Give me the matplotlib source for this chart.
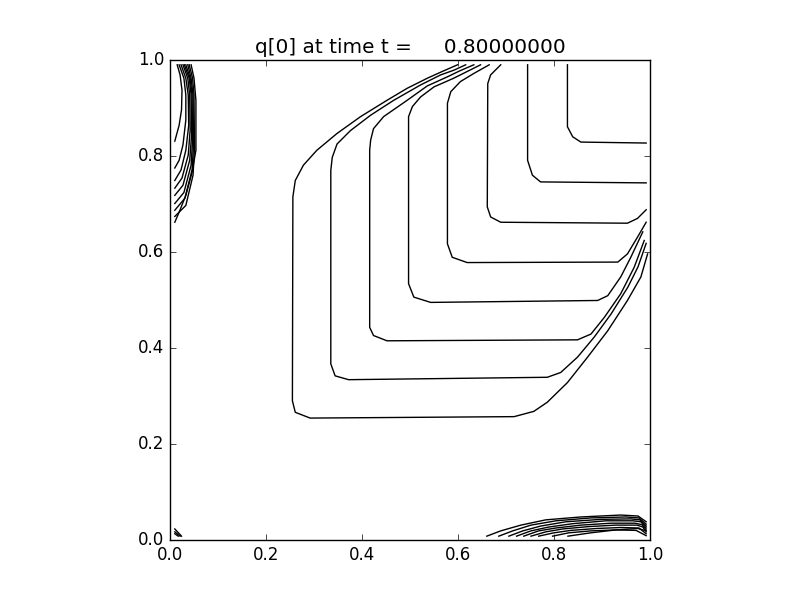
import matplotlib
matplotlib.use("Agg")
import matplotlib.pyplot as plt

# contour lines, (x, y) in data units
# main L-shaped contours, outermost first
main_lines = [
    [(0.599, 0.990), (0.567, 0.976), (0.536, 0.962), (0.494, 0.941), (0.452, 0.916),
     (0.397, 0.882), (0.348, 0.847), (0.306, 0.812), (0.278, 0.781), (0.261, 0.749),
     (0.256, 0.715), (0.255, 0.290), (0.261, 0.266), (0.292, 0.254), (0.717, 0.257),
     (0.758, 0.268), (0.786, 0.287), (0.828, 0.328), (0.870, 0.381), (0.912, 0.436),
     (0.953, 0.499), (0.981, 0.548), (0.995, 0.596)],
    [(0.616, 0.990), (0.592, 0.979), (0.564, 0.969), (0.522, 0.948), (0.466, 0.916),
     (0.418, 0.885), (0.376, 0.853), (0.348, 0.825), (0.338, 0.797), (0.335, 0.770),
     (0.335, 0.367), (0.344, 0.342), (0.372, 0.334), (0.786, 0.339), (0.814, 0.349),
     (0.849, 0.381), (0.884, 0.423), (0.919, 0.471), (0.954, 0.527), (0.975, 0.569),
     (0.992, 0.618)],
    [(0.633, 0.990), (0.605, 0.978), (0.578, 0.965), (0.536, 0.946), (0.494, 0.916),
     (0.445, 0.882), (0.424, 0.857), (0.418, 0.833), (0.416, 0.812), (0.416, 0.443),
     (0.424, 0.426), (0.452, 0.415), (0.849, 0.417), (0.877, 0.429), (0.905, 0.464),
     (0.939, 0.513), (0.967, 0.568), (0.988, 0.624)],
    [(0.647, 0.990), (0.619, 0.976), (0.591, 0.962), (0.550, 0.944), (0.522, 0.923),
     (0.505, 0.903), (0.497, 0.882), (0.497, 0.534), (0.508, 0.506), (0.543, 0.495),
     (0.891, 0.499), (0.912, 0.509), (0.939, 0.548), (0.960, 0.589), (0.985, 0.642)],
    [(0.665, 0.990), (0.633, 0.972), (0.605, 0.955), (0.585, 0.934), (0.578, 0.910),
     (0.578, 0.617), (0.588, 0.589), (0.619, 0.578), (0.933, 0.579), (0.953, 0.596),
     (0.974, 0.631), (0.992, 0.662)],
    [(0.689, 0.990), (0.668, 0.969), (0.662, 0.951), (0.661, 0.694), (0.668, 0.673),
     (0.689, 0.662), (0.953, 0.660), (0.974, 0.670), (0.992, 0.688)],
    [(0.745, 0.990), (0.745, 0.791), (0.755, 0.760), (0.772, 0.746), (0.992, 0.744)],
    [(0.828, 0.990), (0.828, 0.861), (0.839, 0.840), (0.856, 0.829), (0.992, 0.827)],
]

# bundle in the upper left corner, innermost first
top_left_lines = [
    [(0.015, 0.990), (0.021, 0.969), (0.025, 0.937), (0.024, 0.896), (0.019, 0.864), (0.010, 0.831)],
    [(0.019, 0.990), (0.029, 0.962), (0.033, 0.927), (0.033, 0.875), (0.027, 0.823), (0.019, 0.791), (0.010, 0.775)],
    [(0.023, 0.990), (0.033, 0.962), (0.038, 0.927), (0.039, 0.864), (0.033, 0.812), (0.023, 0.771), (0.010, 0.749)],
    [(0.027, 0.990), (0.037, 0.962), (0.041, 0.927), (0.042, 0.854), (0.038, 0.802), (0.025, 0.754), (0.010, 0.733)],
    [(0.030, 0.990), (0.040, 0.962), (0.044, 0.927), (0.045, 0.843), (0.041, 0.791), (0.027, 0.739), (0.010, 0.718)],
    [(0.033, 0.990), (0.042, 0.962), (0.046, 0.927), (0.047, 0.833), (0.044, 0.781), (0.029, 0.724), (0.010, 0.701)],
    [(0.037, 0.990), (0.044, 0.962), (0.048, 0.927), (0.049, 0.823), (0.046, 0.771), (0.031, 0.712), (0.010, 0.687)],
    [(0.040, 0.990), (0.047, 0.962), (0.050, 0.927), (0.051, 0.816), (0.048, 0.760), (0.033, 0.697), (0.010, 0.674)],
    [(0.044, 0.990), (0.050, 0.962), (0.054, 0.916), (0.054, 0.812), (0.046, 0.766), (0.033, 0.718), (0.019, 0.683), (0.010, 0.662)],
]

# bundle along the bottom edge on the right, outermost first
bottom_right_lines = [
    [(0.660, 0.008), (0.689, 0.019), (0.731, 0.031), (0.783, 0.042), (0.856, 0.048), (0.939, 0.052), (0.975, 0.050), (0.992, 0.038)],
    [(0.685, 0.008), (0.714, 0.019), (0.752, 0.031), (0.804, 0.040), (0.877, 0.046), (0.950, 0.048), (0.977, 0.046), (0.992, 0.033)],
    [(0.706, 0.008), (0.735, 0.019), (0.772, 0.029), (0.825, 0.038), (0.898, 0.043), (0.960, 0.044), (0.979, 0.042), (0.992, 0.029)],
    [(0.722, 0.008), (0.752, 0.019), (0.789, 0.027), (0.839, 0.034), (0.908, 0.040), (0.965, 0.040), (0.981, 0.038), (0.992, 0.025)],
    [(0.737, 0.008), (0.768, 0.019), (0.804, 0.025), (0.856, 0.031), (0.919, 0.035), (0.969, 0.035), (0.983, 0.032), (0.992, 0.021)],
    [(0.752, 0.008), (0.783, 0.017), (0.818, 0.023), (0.873, 0.028), (0.929, 0.031), (0.973, 0.031), (0.985, 0.027), (0.992, 0.017)],
    [(0.768, 0.008), (0.800, 0.015), (0.835, 0.020), (0.889, 0.024), (0.939, 0.026), (0.977, 0.025), (0.992, 0.013)],
    [(0.797, 0.008), (0.831, 0.015), (0.877, 0.019), (0.929, 0.021), (0.971, 0.020), (0.992, 0.009)],
    [(0.829, 0.008), (0.877, 0.015), (0.929, 0.021), (0.975, 0.024), (0.992, 0.019)],
]

# tiny strokes in the lower left corner
bottom_left_lines = [
    [(0.010, 0.023), (0.024, 0.008)],
    [(0.010, 0.017), (0.021, 0.008)],
    [(0.010, 0.013), (0.017, 0.008)],
]

title = "q[0] at time t =     0.80000000"


def draw(ax, lines):
    for line in lines:
        xs = [p[0] for p in line]
        ys = [p[1] for p in line]
        ax.plot(xs, ys, color='k', lw=1.0)


def main():
    plt.style.use('classic')
    fig = plt.figure(figsize=(8, 6), dpi=100)
    ax = fig.add_subplot(111)

    draw(ax, main_lines)
    draw(ax, top_left_lines)
    draw(ax, bottom_right_lines)
    draw(ax, bottom_left_lines)

    ax.set_xlim(0, 1)
    ax.set_ylim(0, 1)
    ax.set_aspect('equal')
    ax.set_xticks([0.0, 0.2, 0.4, 0.6, 0.8, 1.0])
    ax.set_yticks([0.0, 0.2, 0.4, 0.6, 0.8, 1.0])
    ax.set_title(title)

    fig.savefig('out.png', dpi=100, facecolor='white')


if __name__ == "__main__":
    main()
